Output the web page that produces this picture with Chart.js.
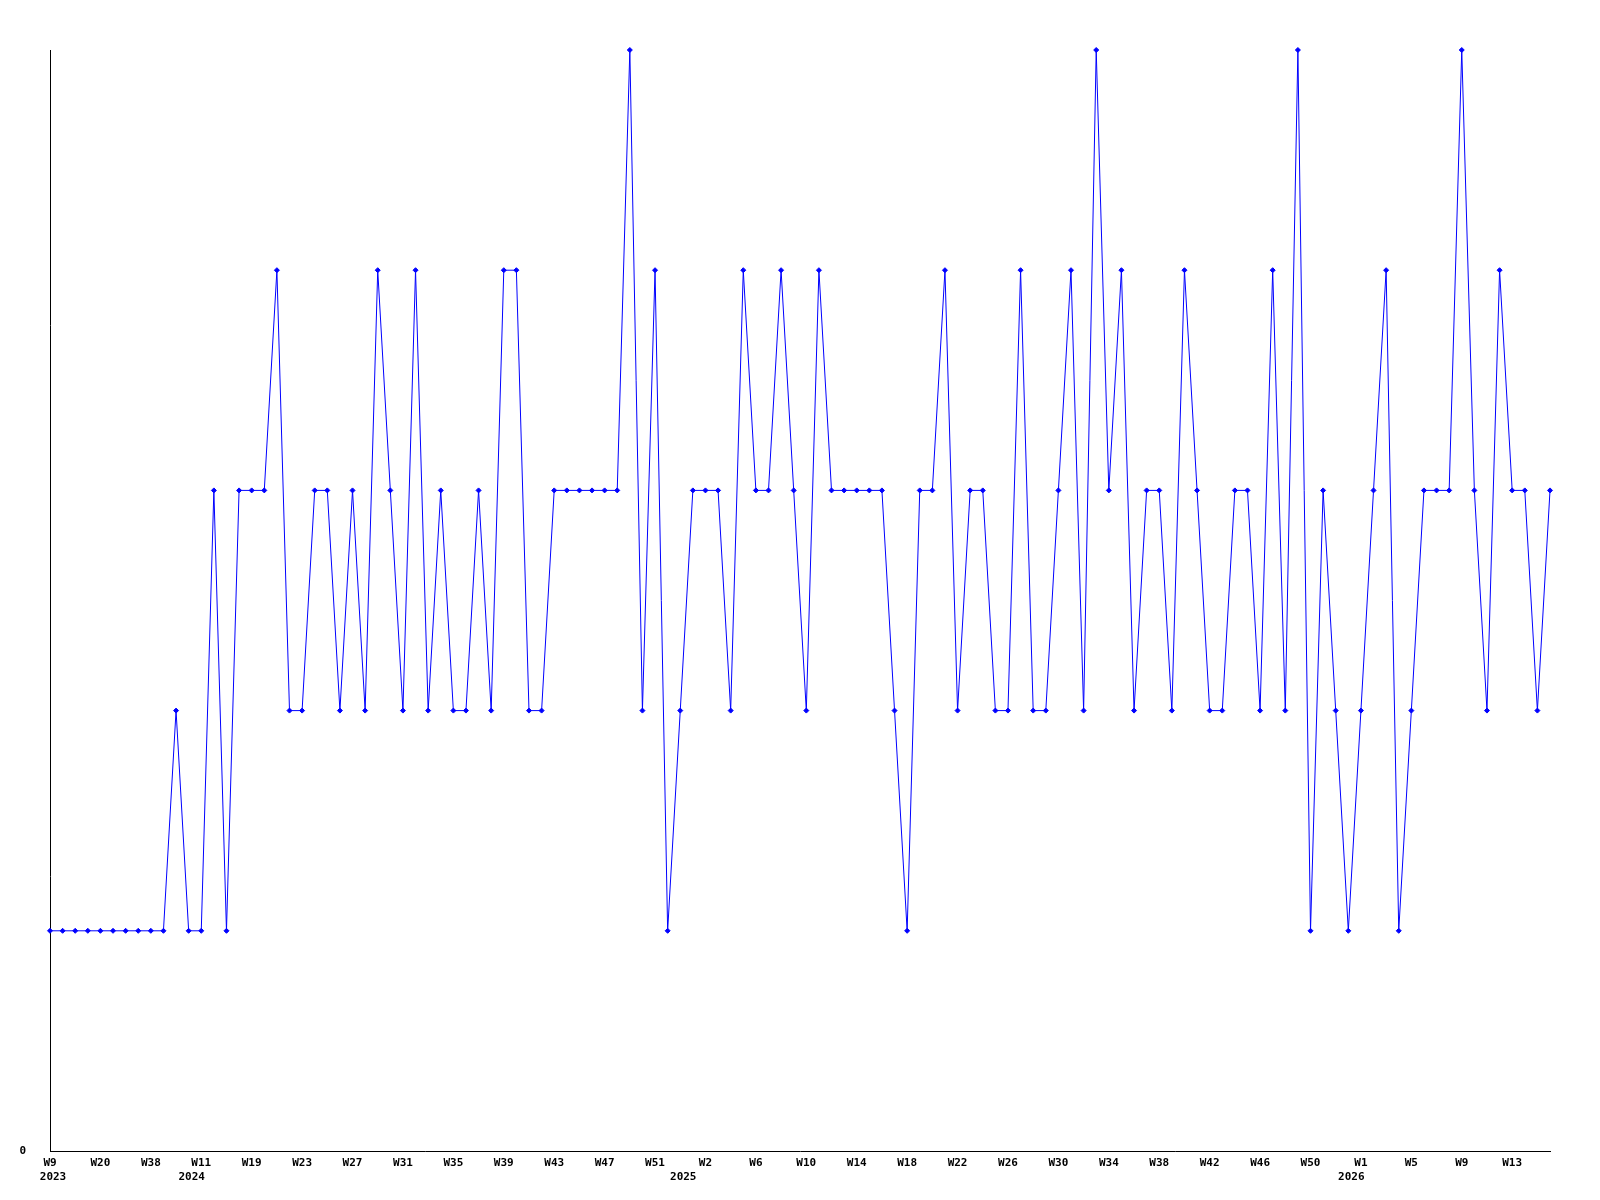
<!DOCTYPE html>
<html>
<head>
<meta charset="utf-8">
<script src="https://cdn.jsdelivr.net/npm/chart.js@4.4.0/dist/chart.umd.min.js"></script>
<style>
  html, body { margin: 0; padding: 0; background: #fff; }
  #wrap { width: 1600px; height: 1200px; }
</style>
</head>
<body>
<div id="wrap"><canvas id="myChart" width="1600" height="1200"></canvas></div>
<script>
// week number of each point and the year it belongs to
const weeks = [
    9, 12, 15, 17, 20, 24, 29, 33, 38, 44,
    49, 6, 11, 13, 15, 17, 19, 20, 21, 22,
    23, 24, 25, 26, 27, 28, 29, 30, 31, 32,
    33, 34, 35, 36, 37, 38, 39, 40, 41, 42,
    43, 44, 45, 46, 47, 48, 49, 50, 51, 52,
    0, 1, 2, 3, 4, 5, 6, 7, 8, 9,
    10, 11, 12, 13, 14, 15, 16, 17, 18, 19,
    20, 21, 22, 23, 24, 25, 26, 27, 28, 29,
    30, 31, 32, 33, 34, 35, 36, 37, 38, 39,
    40, 41, 42, 43, 44, 45, 46, 47, 48, 49,
    50, 51, 52, 0, 1, 2, 3, 4, 5, 6,
    7, 8, 9, 10, 11, 12, 13, 14, 15, 16
];
const years = [
    2023, 2023, 2023, 2023, 2023, 2023, 2023, 2023, 2023, 2023,
    2023, 2024, 2024, 2024, 2024, 2024, 2024, 2024, 2024, 2024,
    2024, 2024, 2024, 2024, 2024, 2024, 2024, 2024, 2024, 2024,
    2024, 2024, 2024, 2024, 2024, 2024, 2024, 2024, 2024, 2024,
    2024, 2024, 2024, 2024, 2024, 2024, 2024, 2024, 2024, 2024,
    2025, 2025, 2025, 2025, 2025, 2025, 2025, 2025, 2025, 2025,
    2025, 2025, 2025, 2025, 2025, 2025, 2025, 2025, 2025, 2025,
    2025, 2025, 2025, 2025, 2025, 2025, 2025, 2025, 2025, 2025,
    2025, 2025, 2025, 2025, 2025, 2025, 2025, 2025, 2025, 2025,
    2025, 2025, 2025, 2025, 2025, 2025, 2025, 2025, 2025, 2025,
    2025, 2025, 2025, 2026, 2026, 2026, 2026, 2026, 2026, 2026,
    2026, 2026, 2026, 2026, 2026, 2026, 2026, 2026, 2026, 2026
];
const counts = [
    1, 1, 1, 1, 1, 1, 1, 1, 1, 1,
    2, 1, 1, 3, 1, 3, 3, 3, 4, 2,
    2, 3, 3, 2, 3, 2, 4, 3, 2, 4,
    2, 3, 2, 2, 3, 2, 4, 4, 2, 2,
    3, 3, 3, 3, 3, 3, 5, 2, 4, 1,
    2, 3, 3, 3, 2, 4, 3, 3, 4, 3,
    2, 4, 3, 3, 3, 3, 3, 2, 1, 3,
    3, 4, 2, 3, 3, 2, 2, 4, 2, 2,
    3, 4, 2, 5, 3, 4, 2, 3, 3, 2,
    4, 3, 2, 2, 3, 3, 2, 4, 2, 5,
    1, 3, 2, 1, 2, 3, 4, 1, 2, 3,
    3, 3, 5, 3, 2, 4, 3, 3, 2, 3
];
const labelEvery = 4;

const labels = weeks.map((w) => `W${w}`);
const tickFont = { family: "'DejaVu Sans Mono', monospace", size: 11, weight: 'bold', lineHeight: 1.2 };

const weekTick = (value, index) => (index % labelEvery === 0 ? labels[index] : '');
// year shown under the first point of each year
const yearTick = (value, index) => (index === 0 || years[index] !== years[index - 1] ? String(years[index]) : '');

const ctx = document.getElementById('myChart');
new Chart(ctx, {
    type: 'line',
    data: {
        labels: labels,
        datasets: [{
            data: counts,
            borderColor: '#0000ff',
            backgroundColor: '#0000ff',
            borderWidth: 1,
            pointStyle: 'rectRot',
            pointRadius: 2.5,
            pointBorderWidth: 1,
            tension: 0,
            clip: false
        }]
    },
    options: {
        responsive: false,
        animation: false,
        devicePixelRatio: 1,
        layout: { padding: { top: 50, right: 50, left: 0, bottom: 0 } },
        plugins: { legend: { display: false }, tooltip: { enabled: false } },
        scales: {
            x: {
                offset: false,
                weight: 0,
                grid: { display: false, drawTicks: false },
                border: { display: true, color: '#000', width: 1 },
                ticks: {
                    autoSkip: false,
                    maxRotation: 0,
                    minRotation: 0,
                    padding: 5.5,
                    color: '#000',
                    font: tickFont,
                    callback: weekTick
                },
                afterFit: (scale) => { scale.height = 18; }
            },
            years: {
                type: 'category',
                position: 'bottom',
                offset: false,
                weight: 1,
                grid: { display: false, drawTicks: false },
                border: { display: false },
                ticks: {
                    autoSkip: false,
                    maxRotation: 0,
                    minRotation: 0,
                    padding: 2,
                    labelOffset: 3,
                    color: '#000',
                    font: tickFont,
                    callback: yearTick
                },
                afterFit: (scale) => { scale.height = 31; }
            },
            y: {
                min: 0,
                max: 5,
                grid: { display: false, drawTicks: false },
                border: { display: true, color: '#000', width: 1 },
                ticks: {
                    stepSize: 1,
                    padding: 24,
                    color: '#000',
                    font: tickFont,
                    callback: (v) => (v === 0 ? '0' : '')
                },
                afterFit: (scale) => { scale.width = 50; }
            }
        }
    }
});
</script>
</body>
</html>
